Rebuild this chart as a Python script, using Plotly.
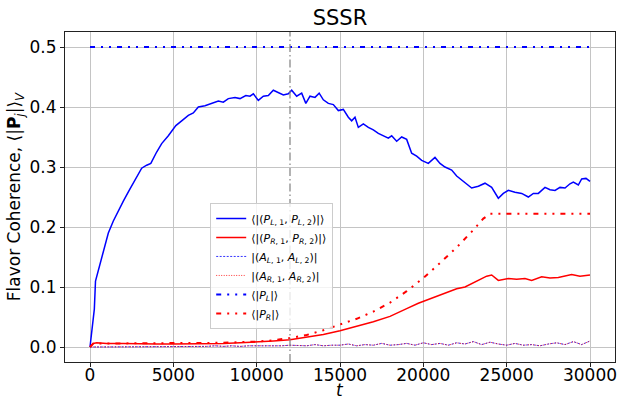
import plotly.graph_objects as go

# ---- data ----
t_L = [0, 150, 200, 260, 330, 500, 700, 850, 1100, 1400, 1750, 2000, 2350, 2700, 3100, 3400, 3650,
       4000, 4300, 4700, 5150, 5500, 5900, 6200, 6500, 6900, 7300, 7700, 8000, 8300, 8700, 9000,
       9350, 9600, 9800, 10100, 10400, 10700, 11000, 11300, 11600, 11900, 12100, 12400, 12700,
       12950, 13200, 13500, 13750, 14000, 14300, 14600, 14900, 15200, 15500, 15700, 15900, 16100,
       16400, 16700, 17000, 17300, 17600, 17900, 18100, 18400, 18700, 19000, 19300, 19600, 19900,
       20300, 20700, 21000, 21300, 21700, 22000, 22300, 22600, 22900, 23300, 23700, 24100, 24500,
       24800, 25100, 25500, 25900, 26300, 26600, 26900, 27300, 27600, 27900, 28200, 28500, 28800,
       29000, 29300, 29500, 29760, 30000]
coh_L = [0.0, 0.04, 0.058, 0.063, 0.11, 0.128, 0.15, 0.162, 0.19, 0.21, 0.231, 0.243, 0.261, 0.278,
         0.298, 0.303, 0.306, 0.325, 0.339, 0.352, 0.369, 0.377, 0.386, 0.39, 0.40, 0.402, 0.406,
         0.41, 0.408, 0.414, 0.416, 0.414, 0.419, 0.418, 0.422, 0.411, 0.418, 0.419, 0.428, 0.424,
         0.42, 0.422, 0.428, 0.418, 0.423, 0.406, 0.418, 0.416, 0.423, 0.412, 0.406, 0.404, 0.394,
         0.396, 0.383, 0.377, 0.383, 0.366, 0.372, 0.366, 0.362, 0.356, 0.352, 0.348, 0.352, 0.343,
         0.35, 0.346, 0.323, 0.318, 0.311, 0.306, 0.316, 0.306, 0.3, 0.295, 0.285, 0.278, 0.272,
         0.265, 0.268, 0.273, 0.266, 0.248, 0.256, 0.261, 0.258, 0.256, 0.25, 0.256, 0.256, 0.266,
         0.262, 0.261, 0.266, 0.265, 0.272, 0.275, 0.27, 0.28, 0.281, 0.276]

t_R = [0, 200, 400, 1000, 2000, 3000, 4000, 5000, 6000, 7000, 8000, 9000, 10000, 11000, 12000,
       13000, 14000, 15000, 16000, 17000, 18000, 18500, 19000, 19700, 20000, 20500, 21000, 21500,
       22000, 22500, 23100, 23500, 23800, 24100, 24500, 25100, 25600, 26100, 26500, 27100, 27600,
       28100, 28500, 28900, 29400, 30000]
coh_R = [0.0, 0.006, 0.007, 0.006, 0.006, 0.005, 0.005, 0.005, 0.005, 0.006, 0.006, 0.007, 0.008,
         0.010, 0.012, 0.016, 0.021, 0.027, 0.034, 0.042, 0.051, 0.058, 0.064, 0.073, 0.076, 0.081,
         0.087, 0.092, 0.097, 0.100, 0.108, 0.113, 0.118, 0.120, 0.111, 0.114, 0.113, 0.114, 0.111,
         0.117, 0.115, 0.116, 0.118, 0.121, 0.118, 0.120]

t_P = [0, 200, 2000, 5000, 8000, 10000, 11000, 12000, 13000, 14000, 15000, 16000, 17000, 18000,
       19000, 20000, 21000, 22000, 23000, 23600, 24000, 30000]
mag_PL = [0.5] * len(t_P)
mag_PR = [0.0, 0.006, 0.006, 0.006, 0.007, 0.009, 0.011, 0.015, 0.020, 0.028, 0.037, 0.047, 0.059,
          0.074, 0.093, 0.115, 0.140, 0.166, 0.195, 0.214, 0.222, 0.222]

t_A = [i * 500 for i in range(61)]
coh_AL = [0.0, 0.0, 0.0, 0.0, 0.0, 0.001, 0.0, 0.001, 0.0, 0.001, 0.001, 0.0, 0.001, 0.001, 0.001,
          0.002, 0.001, 0.002, 0.001, 0.002, 0.002, 0.001, 0.002, 0.002, 0.003, 0.002, 0.002, 0.004,
          0.002, 0.003, 0.003, 0.005, 0.002, 0.004, 0.003, 0.006, 0.003, 0.004, 0.006, 0.003, 0.007,
          0.004, 0.006, 0.003, 0.007, 0.005, 0.009, 0.004, 0.008, 0.005, 0.003, 0.006, 0.003, 0.004,
          0.002, 0.005, 0.007, 0.004, 0.009, 0.004, 0.010]
coh_AR = list(coh_AL)

t_line = 12000

x_ticks = [0, 5000, 10000, 15000, 20000, 25000, 30000]
y_ticks = [0.0, 0.1, 0.2, 0.3, 0.4, 0.5]

lab_L = "⟨|(<i>P</i><sub><i>L</i>, 1</sub>, <i>P</i><sub><i>L</i>, 2</sub>)|⟩"
lab_R = "⟨|(<i>P</i><sub><i>R</i>, 1</sub>, <i>P</i><sub><i>R</i>, 2</sub>)|⟩"
lab_AL = "|(<i>A</i><sub><i>L</i>, 1</sub>, <i>A</i><sub><i>L</i>, 2</sub>)|"
lab_AR = "|(<i>A</i><sub><i>R</i>, 1</sub>, <i>A</i><sub><i>R</i>, 2</sub>)|"
lab_PL = "⟨|<i>P</i><sub><i>L</i></sub>|⟩"
lab_PR = "⟨|<i>P</i><sub><i>R</i></sub>|⟩"

dashdotdot = "5px,6px,2px,6px,2px,6px"

fig = go.Figure()
fig.add_trace(go.Scatter(x=t_L, y=coh_L, mode="lines", name=lab_L,
                         line=dict(color="blue", width=1.5)))
fig.add_trace(go.Scatter(x=t_R, y=coh_R, mode="lines", name=lab_R,
                         line=dict(color="red", width=1.5)))
fig.add_trace(go.Scatter(x=t_A, y=coh_AL, mode="lines", name=lab_AL,
                         line=dict(color="blue", width=0.8, dash="2px,1.5px")))
fig.add_trace(go.Scatter(x=t_A, y=coh_AR, mode="lines", name=lab_AR,
                         line=dict(color="red", width=0.8, dash="1px,1.5px")))
fig.add_trace(go.Scatter(x=t_P, y=mag_PL, mode="lines", name=lab_PL,
                         line=dict(color="blue", width=2, dash=dashdotdot)))
fig.add_trace(go.Scatter(x=t_P, y=mag_PR, mode="lines", name=lab_PR,
                         line=dict(color="red", width=2, dash=dashdotdot)))

fig.add_shape(type="line", x0=t_line, x1=t_line, y0=0, y1=1, xref="x", yref="paper",
              line=dict(color="gray", width=1.2, dash="8px,3px,1.5px,3px"))

axis_common = dict(showline=True, linecolor="#222222", linewidth=1, mirror=True,
                   ticks="outside", ticklen=4, tickcolor="#222222", automargin=False,
                   showgrid=True, gridcolor="#c4c4c4", gridwidth=1, zeroline=False,
                   tickfont=dict(size=17, color="black"))

fig.update_xaxes(range=[-1500, 31500], tickvals=x_ticks, ticktext=[str(v) for v in x_ticks],
                 ticklabelstandoff=-6, **axis_common)
fig.update_yaxes(range=[-0.025, 0.525], tickvals=y_ticks, ticktext=[f"{v:.1f}" for v in y_ticks],
                 title=dict(text="Flavor Coherence, ⟨|<b>P</b><sub><i>j</i></sub>|⟩<sub><i>V</i></sub>",
                            font=dict(size=17, color="black"), standoff=4),
                 **axis_common)

fig.add_annotation(text="<i>t</i>", x=0.5, xref="paper", y=0, yref="paper",
                   yanchor="bottom", yshift=-39, showarrow=False, borderpad=0,
                   font=dict(size=17, color="black"))

fig.update_layout(
    width=621, height=401,
    margin=dict(l=65, r=6, t=32, b=39),
    plot_bgcolor="white", paper_bgcolor="white",
    font=dict(family="DejaVu Sans", color="black"),
    title=dict(text="SSSR", x=0.5, xref="paper", y=1 - 18 / 401, yref="container",
               yanchor="middle", xanchor="center", font=dict(size=21, color="black")),
    legend=dict(x=0.264, y=0.482, xanchor="left", yanchor="top",
                bgcolor="rgba(255,255,255,0.8)", bordercolor="#cccccc", borderwidth=1,
                font=dict(size=11, color="black"), tracegroupgap=0, itemwidth=30),
    showlegend=True,
)

fig.write_html("out.html")
